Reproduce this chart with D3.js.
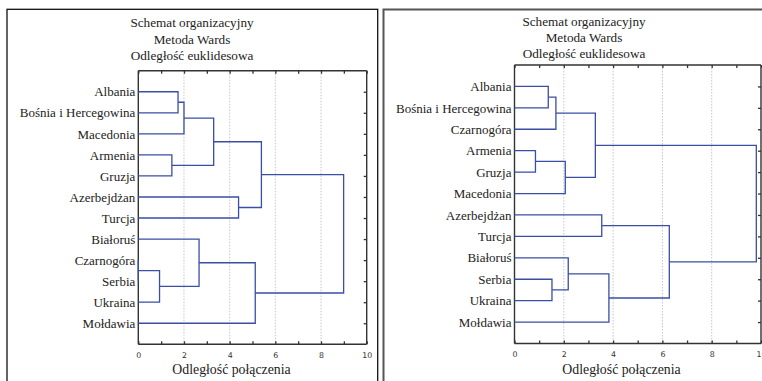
<!DOCTYPE html>
<html><head><meta charset="utf-8">
<script src="https://cdn.jsdelivr.net/npm/d3@7"></script>
<style>body{margin:0;background:#fff}svg{display:block}</style>
</head><body>
<svg id="c" width="762" height="381"></svg>
<script>
// ---------- DATA ----------
const titleLines = ["Schemat organizacyjny", "Metoda Wards", "Odległość euklidesowa"];
const xLabel = "Odległość połączenia";
const xTicks = [0,1,2,3,4,5,6,7,8,9,10];
const xTickLabels = [0,2,4,6,8,10];
const gridValues = [2,4,6,8];

const leftLeaves = ["Albania","Bośnia i Hercegowina","Macedonia","Armenia","Gruzja","Azerbejdżan","Turcja","Białoruś","Czarnogóra","Serbia","Ukraina","Mołdawia"];
// [childA, childB, height]; indices >= 12 refer to earlier merges
const leftMerges = [
  [8,9,0.0],
  [12,10,0.93],
  [3,4,1.47],
  [0,1,1.74],
  [15,2,2.0],
  [7,13,2.66],
  [16,14,3.3],
  [5,6,4.39],
  [17,11,5.12],
  [18,19,5.39],
  [21,20,8.99]
];

const rightLeaves = ["Albania","Bośnia i Hercegowina","Czarnogóra","Armenia","Gruzja","Macedonia","Azerbejdżan","Turcja","Białoruś","Serbia","Ukraina","Mołdawia"];
const rightMerges = [
  [3,4,0.85],
  [0,1,1.37],
  [9,10,1.52],
  [13,2,1.68],
  [12,5,2.06],
  [14,8,2.18],
  [15,16,3.28],
  [6,7,3.54],
  [17,11,3.83],
  [19,20,6.28],
  [18,21,9.81]
];

// ---------- DRAW ----------
const svg = d3.select("#c");
const serif = "'Liberation Serif','DejaVu Serif',serif";
const sans = "'DejaVu Sans',sans-serif";
const axisColor = "#333";
const lineColor = "#3a4ea4";

function panel(cfg) {
  const g = svg.append("g");
  g.append("rect").attr("x", cfg.frame[0]).attr("y", cfg.frame[1])
    .attr("width", cfg.frame[2]).attr("height", cfg.frame[3])
    .attr("fill", "none").attr("stroke", cfg.frameColor).attr("stroke-width", cfg.frameWidth);
  titleLines.forEach((t, i) => {
    g.append("text").attr("x", cfg.titleX).attr("y", cfg.titleY + i * cfg.titleStep)
      .attr("text-anchor", "middle").attr("font-family", serif).attr("font-size", 13.2)
      .attr("fill", "#222").text(t);
  });
  const x = d3.scaleLinear().domain([0, 10]).range([cfg.left, cfg.right]);
  const y = d3.scalePoint().domain(cfg.leaves).range([cfg.top, cfg.bottom]).padding(1);

  g.selectAll(".grid").data(gridValues).enter().append("line")
    .attr("x1", d => x(d)).attr("x2", d => x(d)).attr("y1", cfg.top).attr("y2", cfg.bottom)
    .attr("stroke", "#b8b8b8").attr("stroke-width", 0.8).attr("stroke-dasharray", "1.5,1.5");

  const top = g.append("g").attr("transform", `translate(0,${cfg.top})`)
    .call(d3.axisTop(x).tickValues(xTicks).tickSize(-3).tickFormat(""));
  const bot = g.append("g").attr("transform", `translate(0,${cfg.bottom})`)
    .call(d3.axisBottom(x).tickValues(xTicks).tickSize(-3).tickPadding(8)
      .tickFormat(d => xTickLabels.includes(d) ? d : ""));
  const rgt = g.append("g").attr("transform", `translate(${cfg.right},0)`)
    .call(d3.axisRight(y).tickSize(-3).tickFormat(""));
  const lft = g.append("g").attr("transform", `translate(${cfg.left},0)`)
    .call(d3.axisLeft(y).tickSize(0).tickPadding(3));
  [top, bot, rgt, lft].forEach(a => {
    a.select(".domain").attr("stroke", axisColor).attr("stroke-width", 1.4);
    a.selectAll(".tick line").attr("stroke", axisColor).attr("stroke-width", 1.3);
  });
  top.select(".domain").attr("d", `M${cfg.left},0H${cfg.right}`);
  bot.select(".domain").attr("d", `M${cfg.left},0H${cfg.right}`);
  rgt.select(".domain").attr("d", `M0,${cfg.top}V${cfg.bottom}`);
  lft.select(".domain").attr("d", `M0,${cfg.top}V${cfg.bottom}`);
  bot.selectAll(".tick text").attr("font-family", sans).attr("font-size", 7.8).attr("fill", "#333");
  lft.selectAll(".tick text").attr("font-family", serif).attr("font-size", 13).attr("fill", "#222");

  const nodes = cfg.leaves.map(l => ({ h: 0, y: y(l) }));
  const dg = g.append("g").attr("fill", "none").attr("stroke", lineColor).attr("stroke-width", 1.3);
  cfg.merges.forEach(([a, b, h]) => {
    const A = nodes[a], B = nodes[b];
    const p = d3.path();
    p.moveTo(x(A.h), A.y); p.lineTo(x(h), A.y);
    p.lineTo(x(h), B.y); p.lineTo(x(B.h), B.y);
    dg.append("path").attr("d", p.toString());
    nodes.push({ h: h, y: (A.y + B.y) / 2 });
  });

  g.append("text").attr("x", cfg.xLabelX).attr("y", 374)
    .attr("text-anchor", "middle").attr("font-family", serif).attr("font-size", 13.8)
    .attr("fill", "#222").text(xLabel);
}

panel({
  frame: [7, 9.3, 370.7, 400], frameColor: "#111", frameWidth: 1.3,
  titleX: 192, titleY: 27, titleStep: 16.5,
  left: 138.3, right: 366.7, top: 70.7, bottom: 344.3,
  leaves: leftLeaves, merges: leftMerges, xLabelX: 231.5
});
panel({
  frame: [383.5, 9.5, 420, 400], frameColor: "#555", frameWidth: 2,
  titleX: 584, titleY: 26, titleStep: 15.8,
  left: 514.5, right: 761, top: 65, bottom: 343.5,
  leaves: rightLeaves, merges: rightMerges, xLabelX: 621.5
});
</script>
</body></html>
